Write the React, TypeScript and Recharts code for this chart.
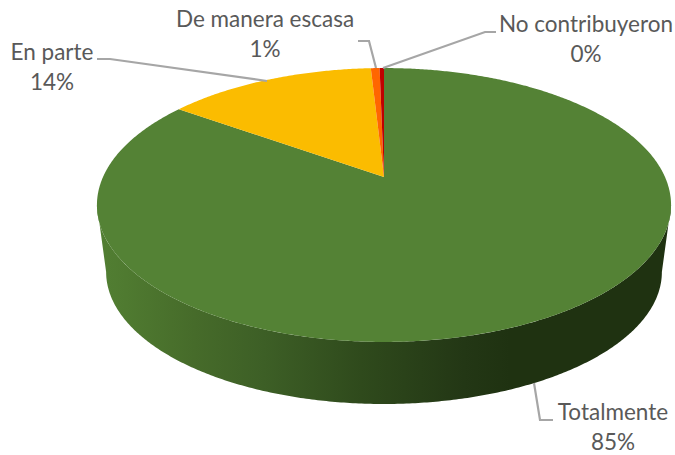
import React from 'react';
import { PieChart, Pie, Cell } from 'recharts';

const categories = ['Totalmente', 'En parte', 'De manera escasa', 'No contribuyeron'];
const shares = [84.8, 14.3, 0.6, 0.3];
const sliceColors = ['#548235', '#FBBC00', '#FF6600', '#C00000'];

const data = categories.map((name, i) => ({ name, value: shares[i] }));

// Perspective of the tilted disc, as ratios of the pie radius
const TILT = 0.467;
const PERSPECTIVE = 0.2044;
const BOTTOM_SCALE = 0.968;
const BOTTOM_TILT = 0.465;
const BOTTOM_DROP = 68;

const LEADER = '#A6A6A6';
const TEXT = '#595959';
const FONT = 'Lato, "Open Sans", sans-serif';

// Label placement and leader line for each category
const labelLayout: Record<string, { x: number; y: number; line: string }> = {
  Totalmente: { x: 613, y: 420, line: '534,383 540,420 553,420' },
  'En parte': { x: 52, y: 60, line: '97,59 110,59 267,81' },
  'De manera escasa': { x: 265, y: 27, line: '358,41 369,41 376,68' },
  'No contribuyeron': { x: 586, y: 32, line: '496,32 485,32 383,68' }
};

const project = (cx: number, cy: number, r: number, tilt: number, deg: number) => {
  // deg is clockwise from the top of the pie
  const a = (deg * Math.PI) / 180;
  const u = Math.sin(a);
  const v = -Math.cos(a);
  const w = 1 - PERSPECTIVE * v;
  return [cx + (r * u) / w, cy + (r * tilt * v) / w];
};

const arcPoints = (cx: number, cy: number, r: number, tilt: number, from: number, to: number) => {
  const n = Math.max(2, Math.ceil((to - from) * 2));
  const pts: string[] = [];
  for (let i = 0; i <= n; i++) {
    const p = project(cx, cy, r, tilt, from + ((to - from) * i) / n);
    pts.push(`${p[0].toFixed(2)} ${p[1].toFixed(2)}`);
  }
  return pts;
};

// Top face of a slice
const TopSlice = (props: any) => {
  const { cx, cy, outerRadius, startAngle, endAngle, fill } = props;
  const pts = arcPoints(cx, cy, outerRadius, TILT, 90 - startAngle, 90 - endAngle);
  return <path d={`M${cx} ${cy}L${pts.join('L')}Z`} fill={fill} stroke="none" />;
};

// Front wall of a slice, only the part that faces the viewer
const WallSlice = (props: any) => {
  const { cx, cy, outerRadius, startAngle, endAngle } = props;
  const edge = (Math.acos(-PERSPECTIVE) * 180) / Math.PI;
  const from = Math.max(90 - startAngle, edge);
  const to = Math.min(90 - endAngle, 360 - edge);
  if (to <= from) return null;
  const top = arcPoints(cx, cy, outerRadius, TILT, from, to);
  const bottom = arcPoints(
    cx,
    cy + BOTTOM_DROP,
    outerRadius * BOTTOM_SCALE,
    BOTTOM_TILT,
    from,
    to
  ).reverse();
  return <path d={`M${top.join('L')}L${bottom.join('L')}Z`} fill="url(#wallShade)" stroke="none" />;
};

const renderLabel = (props: any) => {
  const layout = labelLayout[props.name];
  if (!layout) return null;
  return (
    <g>
      <polyline points={layout.line} fill="none" stroke={LEADER} strokeWidth={2.2} />
      <text x={layout.x} y={layout.y} textAnchor="middle" fill={TEXT} fontSize={22.5} fontFamily={FONT}>
        {props.name}
      </text>
      <text x={layout.x} y={layout.y + 30} textAnchor="middle" fill={TEXT} fontSize={22.5} fontFamily={FONT}>
        {Math.round(props.percent * 100)}%
      </text>
    </g>
  );
};

export default function App() {
  return (
    <div style={{ position: 'absolute', left: 0, top: 0, width: 675, height: 455, background: '#fff' }}>
      <PieChart width={675} height={455} margin={{ top: 0, right: 0, bottom: 0, left: 0 }}>
        <defs>
          <linearGradient id="wallShade" gradientUnits="userSpaceOnUse" x1="97" y1="0" x2="671" y2="0">
            <stop offset="0%" stopColor="#527F33" />
            <stop offset="5%" stopColor="#4F7A30" />
            <stop offset="17%" stopColor="#466B2A" />
            <stop offset="29%" stopColor="#3D5F26" />
            <stop offset="46%" stopColor="#2F4A1C" />
            <stop offset="64%" stopColor="#233715" />
            <stop offset="72%" stopColor="#1F3211" />
            <stop offset="100%" stopColor="#1F3211" />
          </linearGradient>
        </defs>
        <Pie
          data={data}
          dataKey="value"
          nameKey="name"
          cx={384}
          cy={177}
          outerRadius={281}
          startAngle={90}
          endAngle={-270}
          stroke="none"
          shape={WallSlice}
          isAnimationActive={false}
        />
        <Pie
          data={data}
          dataKey="value"
          nameKey="name"
          cx={384}
          cy={177}
          outerRadius={281}
          startAngle={90}
          endAngle={-270}
          stroke="none"
          shape={TopSlice}
          label={renderLabel}
          labelLine={false}
          isAnimationActive={false}
        >
          {data.map((entry, index) => (
            <Cell key={`cell-${index}`} fill={sliceColors[index]} />
          ))}
        </Pie>
      </PieChart>
    </div>
  );
}
